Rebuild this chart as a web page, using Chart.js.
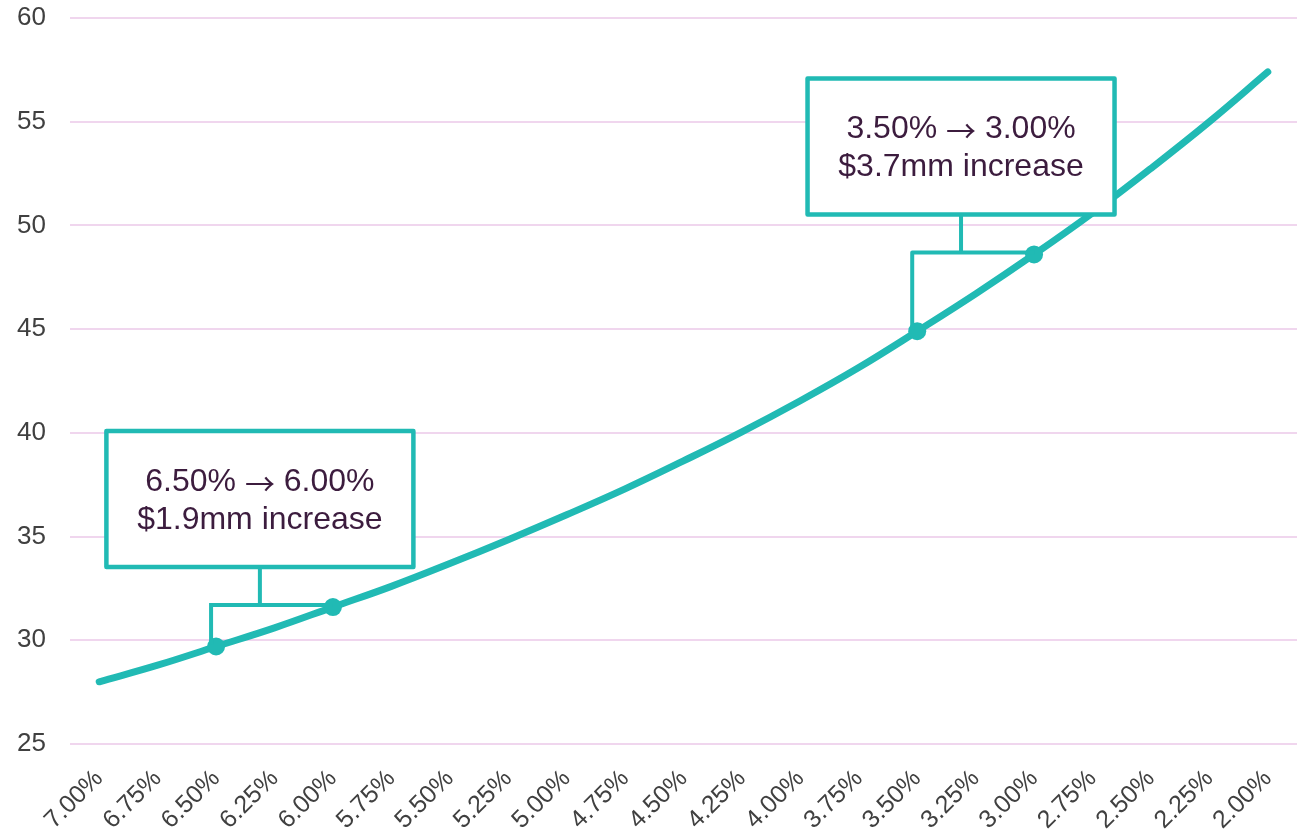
<!DOCTYPE html>
<html>
<head>
<meta charset="utf-8">
<script src="https://cdn.jsdelivr.net/npm/chart.js@4"></script>
<style>
  html, body { margin: 0; padding: 0; background: #fff; }
  #wrap { width: 1306px; height: 833px; }
</style>
</head>
<body>
<div id="wrap"><canvas id="chart_rates"></canvas></div>
<script>
// rate labels along the bottom (falling left to right)
const rateLabels = ['7.00%', '6.75%', '6.50%', '6.25%', '6.00%', '5.75%', '5.50%', '5.25%', '5.00%', '4.75%',
  '4.50%', '4.25%', '4.00%', '3.75%', '3.50%', '3.25%', '3.00%', '2.75%', '2.50%', '2.25%', '2.00%'];
// value
const curveValues = [28.0, 28.8, 29.7, 30.6, 31.6, 32.6, 33.7, 34.85, 36.05, 37.3,
  38.65, 40.05, 41.55, 43.15, 44.9, 46.7, 48.6, 50.6, 52.75, 55.0, 57.4];
const markedRates = ['6.50%', '6.00%', '3.50%', '3.00%'];

// callout pairs: from rate -> to rate, with text
const calloutFrom = ['6.50%', '3.50%'];
const calloutTo = ['6.00%', '3.00%'];
const calloutAmount = ['$1.9mm increase', '$3.7mm increase'];

const teal = '#21bab4';
const fontFamily = '"Liberation Sans", Arial, sans-serif';
const arrowFamily = '"Noto Sans CJK SC", "DejaVu Sans", sans-serif';

const calloutPlugin = {
  id: 'callouts',
  afterDatasetsDraw(chart) {
    const ctx = chart.ctx;
    const xs = chart.scales.x;
    const ys = chart.scales.y;
    const step = xs.getPixelForValue(1) - xs.getPixelForValue(0);
    ctx.save();
    calloutFrom.forEach((fromLabel, i) => {
      const a = rateLabels.indexOf(fromLabel);
      const b = rateLabels.indexOf(calloutTo[i]);
      const ax = xs.getPixelForValue(a), ay = ys.getPixelForValue(curveValues[a]);
      const bx = xs.getPixelForValue(b), by = ys.getPixelForValue(curveValues[b]);
      const cx = ax + step * 0.75;
      const hy = by - 2;
      const boxW = 307, boxH = 136;
      const boxBottom = hy - 38;
      const boxTop = boxBottom - boxH;

      // bracket
      ctx.strokeStyle = teal;
      ctx.lineWidth = 4;
      ctx.lineCap = 'butt';
      ctx.beginPath();
      ctx.moveTo(ax - 5, ay - 2);
      ctx.lineTo(ax - 5, hy);
      ctx.lineTo(bx, hy);
      ctx.moveTo(cx, hy);
      ctx.lineTo(cx, boxBottom);
      ctx.stroke();

      // box
      ctx.fillStyle = '#ffffff';
      ctx.fillRect(cx - boxW / 2, boxTop, boxW, boxH);
      ctx.lineJoin = 'round';
      ctx.lineWidth = 4.5;
      ctx.strokeRect(cx - boxW / 2, boxTop, boxW, boxH);

      // text: first line has the arrow in another font
      ctx.fillStyle = '#3c1c3e';
      ctx.textBaseline = 'middle';
      const left = fromLabel + ' ';
      const right = ' ' + calloutTo[i];
      const arrow = '\u2192';
      ctx.font = '32px ' + fontFamily;
      const wl = ctx.measureText(left).width;
      const wr = ctx.measureText(right).width;
      ctx.font = '30px ' + arrowFamily;
      const wa = ctx.measureText(arrow).width;
      let x0 = cx - (wl + wa + wr) / 2;
      ctx.textAlign = 'left';
      ctx.font = '32px ' + fontFamily;
      ctx.fillText(left, x0, boxTop + 51);
      ctx.font = '30px ' + arrowFamily;
      ctx.fillText(arrow, x0 + wl, boxTop + 52);
      ctx.font = '32px ' + fontFamily;
      ctx.fillText(right, x0 + wl + wa, boxTop + 51);

      ctx.textAlign = 'center';
      ctx.fillText(calloutAmount[i], cx, boxTop + 89);
    });
    ctx.restore();
  }
};

const chartConfig = {
  type: 'line',
  data: {
    labels: rateLabels,
    datasets: [{
      label: 'Value',
      data: curveValues,
      borderColor: teal,
      backgroundColor: teal,
      borderWidth: 7,
      borderCapStyle: 'round',
      tension: 0.4,
      fill: false,
      pointRadius: rateLabels.map(l => markedRates.includes(l) ? 9 : 0),
      pointBorderWidth: 0,
      pointBackgroundColor: teal
    }]
  },
  options: {
    responsive: true,
    maintainAspectRatio: false,
    animation: false,
    layout: { padding: { top: 18, right: 9, left: 0, bottom: 0 } },
    plugins: {
      legend: { display: false },
      tooltip: { enabled: false }
    },
    scales: {
      x: {
        offset: true,
        grid: { display: false },
        border: { display: false },
        ticks: {
          color: '#404040',
          font: { family: fontFamily, size: 25 },
          minRotation: 45,
          maxRotation: 45,
          autoSkip: false,
          padding: 12
        },
        afterFit(axis) {
          axis.height = 89;
          axis.paddingTop = 0;
          axis.paddingBottom = 0;
        }
      },
      y: {
        min: 25,
        max: 60,
        border: { display: false },
        grid: { color: '#f0d6ee', lineWidth: 2, drawTicks: false },
        ticks: {
          stepSize: 5,
          color: '#404040',
          font: { family: fontFamily, size: 26 },
          padding: 24
        },
        afterFit(axis) {
          axis.width = 70;
          axis.paddingTop = 0;
          axis.paddingBottom = 0;
        }
      }
    }
  },
  plugins: [calloutPlugin]
};

const chartElement = document.getElementById('chart_rates');
const chart = new Chart(chartElement, chartConfig);
</script>
</body>
</html>
